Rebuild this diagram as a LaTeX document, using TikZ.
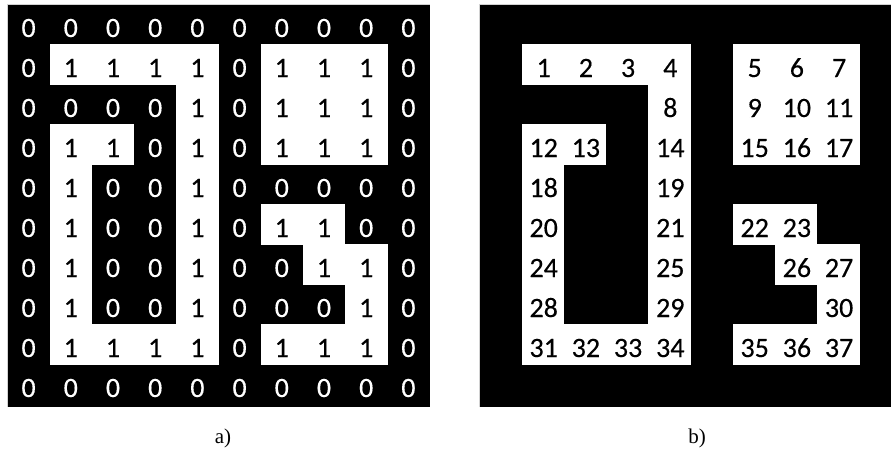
\documentclass[tikz,border=0pt]{standalone}
\usepackage{fontspec}
\setmainfont{Liberation Serif}
\newfontfamily\cellfont[Numbers=Lining,FakeBold=0.3]{Carlito}
\newcount\lab
\tikzset{
  bgfill/.style={fill=black},
  onecell/.style={fill=white},
  digit/.style={font=\cellfont\fontsize{28}{30}\selectfont, inner sep=0pt, anchor=base},
  zerotext/.style={digit, text=white},
  onetext/.style={digit, text=black},
  frameline/.style={draw=gray!35, line width=1pt},
  caption/.style={font=\fontsize{21}{24}\selectfont, inner sep=0pt}
}
\def\gridrows{{0,0,0,0,0,0,0,0,0,0},{0,1,1,1,1,0,1,1,1,0},{0,0,0,0,1,0,1,1,1,0},{0,1,1,0,1,0,1,1,1,0},{0,1,0,0,1,0,0,0,0,0},{0,1,0,0,1,0,1,1,0,0},{0,1,0,0,1,0,0,1,1,0},{0,1,0,0,1,0,0,0,1,0},{0,1,1,1,1,0,1,1,1,0},{0,0,0,0,0,0,0,0,0,0}}
\begin{document}
\begin{tikzpicture}[x=1pt,y=-1pt]
\useasboundingbox (0,0) rectangle (891,453);
\fill[white] (0,0) rectangle (891,453);
% backgrounds
\fill[bgfill] (7.5,4.5) rectangle (430,407);
\fill[bgfill] (479.5,4.5) rectangle (891,407);
% white cells
\foreach \row [count=\r from 0] in \gridrows {
  \foreach \v [count=\c from 0] in \row {
    \ifnum\v=1
      \fill[onecell] ({7.5+42.2*\c-0.2},{4.5+40*\r-0.2}) rectangle ++(42.6,40.4);
      \fill[onecell] ({479.5+42.2*\c-0.2},{4.5+40*\r-0.2}) rectangle ++(42.6,40.4);
    \fi
  }
}
% texts
\global\lab=0
\foreach \row [count=\r from 0] in \gridrows {
  \foreach \v [count=\c from 0] in \row {
    \ifnum\v=1
      \node[onetext] (a-\r-\c) at ({7.5+42.2*\c+21.1},{4.5+40*\r+32.5}) {1};
      \global\advance\lab by 1
      \node[onetext] (b-\r-\c) at ({479.5+42.2*\c+22},{4.5+40*\r+32.5}) {\the\lab};
    \else
      \node[zerotext] (a-\r-\c) at ({7.5+42.2*\c+21.1},{4.5+40*\r+32.5}) {0};
    \fi
  }
}
% frame lines
\draw[frameline] (7.5,407) -- (7.5,4.5) -- (430,4.5);
\draw[frameline] (479.5,407) -- (479.5,4.5) -- (891,4.5);
% captions
\node[caption] (capa) at (223,438) {a)};
\node[caption] (capb) at (697,438) {b)};
\end{tikzpicture}
\end{document}
